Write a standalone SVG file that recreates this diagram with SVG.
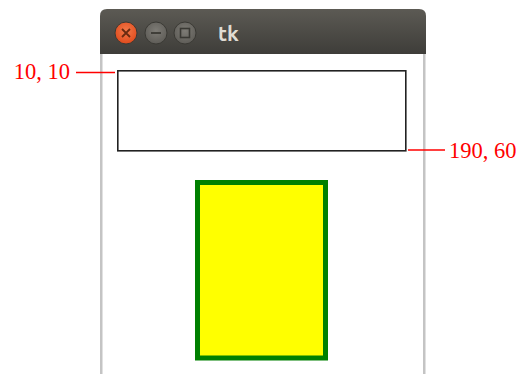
<svg xmlns="http://www.w3.org/2000/svg" width="521" height="374" viewBox="0 0 521 374">
<defs>
<style>
.lbl{font-family:"Liberation Serif","DejaVu Serif",serif;font-size:22.5px;fill:#ff0000}
.lead{stroke:#ff0000;stroke-width:1.6;fill:none}
.btn{stroke:#3a3934;stroke-width:1}
</style>
<linearGradient id="tb" x1="0" y1="0" x2="0" y2="1">
<stop offset="0" stop-color="#5c5a54"/>
<stop offset="1" stop-color="#3e3d39"/>
</linearGradient>
<radialGradient id="cls" cx="0.5" cy="0.4" r="0.6">
<stop offset="0" stop-color="#f37a4a"/>
<stop offset="1" stop-color="#df4a1c"/>
</radialGradient>
<radialGradient id="gbtn" cx="0.5" cy="0.4" r="0.6">
<stop offset="0" stop-color="#7e7c76"/>
<stop offset="1" stop-color="#5e5c57"/>
</radialGradient>
</defs>
<rect width="521" height="374" fill="#ffffff"/>
<g id="window">
<rect x="100" y="50" width="326" height="330" fill="#ffffff"/>
<rect x="100" y="50" width="2.5" height="330" fill="#c4c4c4"/>
<rect x="423" y="50" width="2.5" height="330" fill="#c4c4c4"/>
<path d="M100 54 V16 Q100 9 107 9 H419 Q426 9 426 16 V54 Z" fill="url(#tb)"/>
<circle class="btn" cx="126" cy="33" r="11" fill="url(#cls)"/>
<path d="M122 29 L130 37 M130 29 L122 37" stroke="#6a2a10" stroke-width="1.8"/>
<circle class="btn" cx="156" cy="33" r="11" fill="url(#gbtn)"/>
<path d="M151 33 H161" stroke="#3a3934" stroke-width="1.8"/>
<circle class="btn" cx="185" cy="33" r="11" fill="url(#gbtn)"/>
<rect x="180.5" y="28.5" width="9" height="9" fill="none" stroke="#3a3934" stroke-width="1.6"/>
<text x="218" y="41" font-family="Ubuntu,'DejaVu Sans',sans-serif" font-weight="bold" font-size="21" fill="#dfdbd2">tk</text>
</g>
<g id="rect1">
<rect x="117.8" y="70.8" width="288" height="80" fill="none" stroke="#222222" stroke-width="1.6"/>
</g>
<g id="rect2">
<rect x="197.5" y="182.5" width="128" height="175.5" fill="#ffff00" stroke="#008000" stroke-width="5"/>
</g>
<g id="connectors">
<path class="lead" d="M76 72.5 H115"/>
<path class="lead" d="M408 150 H445"/>
</g>
<g id="labels">
<text class="lbl" x="70" y="78.5" text-anchor="end">10, 10</text>
<text class="lbl" x="449" y="157.5">190, 60</text>
</g>
</svg>
